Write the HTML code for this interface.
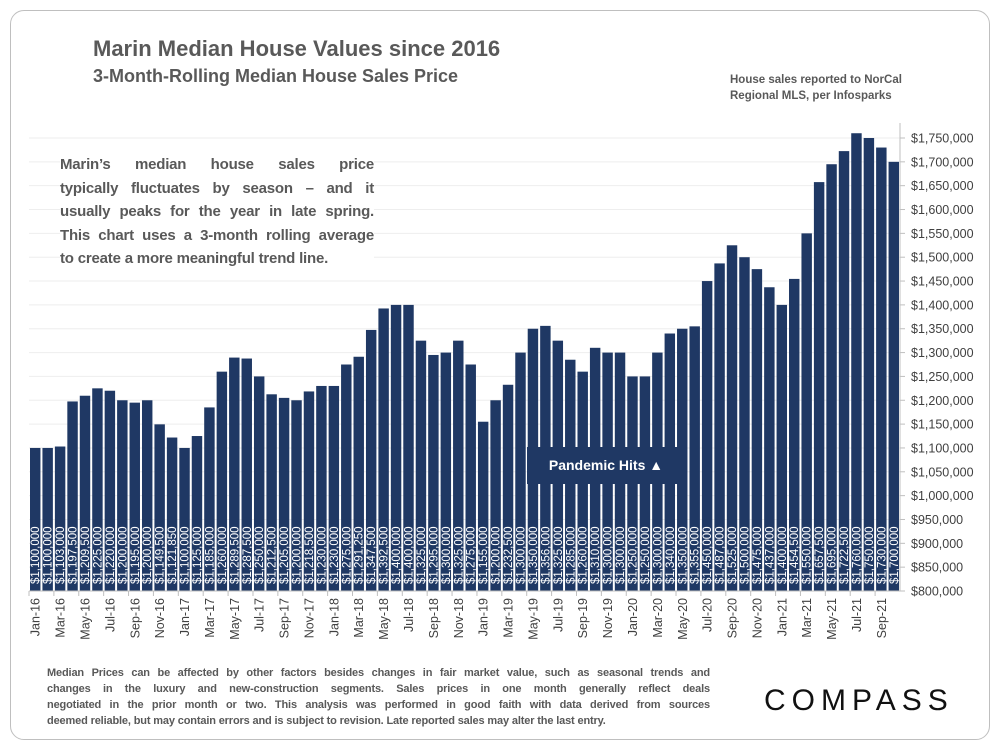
<!DOCTYPE html>
<html><head><meta charset="utf-8">
<style>
body{margin:0;background:#fff;width:1000px;height:750px;overflow:hidden;font-family:"Liberation Sans",sans-serif;}
#frame{position:absolute;left:10px;top:10px;width:978px;height:728px;border:1.5px solid #bfbfbf;border-radius:14px;}
.t{position:absolute;color:#595959;font-weight:bold;}
.jl{text-align:justify;text-align-last:justify;white-space:nowrap;}
.ll{text-align:left;white-space:nowrap;}
</style></head><body>
<div id="frame"></div>
<div class="t" style="left:93px;top:36px;font-size:22px;">Marin Median House Values since 2016</div>
<div class="t" style="left:93px;top:66px;font-size:18px;">3-Month-Rolling Median House Sales Price</div>
<div class="t" style="left:730px;top:72px;font-size:11.5px;line-height:16px;">House sales reported to NorCal<br>Regional MLS, per Infosparks</div>
<svg id="chart" width="1000" height="750" style="position:absolute;left:0;top:0"></svg>
<div class="t" style="left:60px;top:153px;width:314px;font-size:15px;line-height:23.5px;background:#fff;letter-spacing:-0.2px;">
<div class="jl">Marin’s median house sales price</div>
<div class="jl">typically fluctuates by season – and it</div>
<div class="jl">usually peaks for the year in late spring.</div>
<div class="jl">This chart uses a 3-month rolling average</div>
<div class="ll">to create a more meaningful trend line.</div>
</div>
<div style="position:absolute;left:527px;top:447px;width:158px;height:37px;background:#1f3864;color:#fff;font-weight:bold;font-size:14px;line-height:37px;text-align:center;">Pandemic Hits ▲</div>
<div class="t" style="left:47px;top:665px;width:663px;font-size:11px;line-height:16px;letter-spacing:-0.15px;">
<div class="jl">Median Prices can be affected by other factors besides changes in fair market value, such as seasonal trends and</div>
<div class="jl">changes in the luxury and new-construction segments. Sales prices in one month generally reflect deals</div>
<div class="jl">negotiated in the prior month or two. This analysis was performed in good faith with data derived from sources</div>
<div class="ll">deemed reliable, but may contain errors and is subject to revision. Late reported sales may alter the last entry.</div>
</div>
<div style="position:absolute;left:764px;top:684px;font-size:30px;letter-spacing:6px;color:#111;font-family:'Liberation Sans',sans-serif;">COMPASS</div>
<script>
const months=["Jan","Feb","Mar","Apr","May","Jun","Jul","Aug","Sep","Oct","Nov","Dec"];
const categories=[];
for(let y=16;y<=21;y++){for(let m=0;m<12;m++){if(y===21&&m>9)break;categories.push(months[m]+"-"+y);}}
const values=[1100000,1100000,1103000,1197500,1209500,1225000,1220000,1200000,1195000,1200000,1149500,1121850,
1100000,1125000,1185000,1260000,1289500,1287500,1250000,1212500,1205000,1200000,1218500,1230000,
1230000,1275000,1291250,1347500,1392500,1400000,1400000,1325000,1295000,1300000,1325000,1275000,
1155000,1200000,1232500,1300000,1350000,1356000,1325000,1285000,1260000,1310000,1300000,1300000,
1250000,1250000,1300000,1340000,1350000,1355000,1450000,1487000,1525000,1500000,1475000,1437000,
1400000,1454500,1550000,1657500,1695000,1722500,1760000,1750000,1730000,1700000];
const yTicks=[800000,850000,900000,950000,1000000,1050000,1100000,1150000,1200000,1250000,1300000,1350000,1400000,1450000,1500000,1550000,1600000,1650000,1700000,1750000];
const NS="http://www.w3.org/2000/svg";
const svg=document.getElementById('chart');
const x0=29,x1=900,yBase=591,yTop=138,vMin=800000,vMax=1750000;
const step=(x1-x0)/categories.length;
function xPos(i){return x0+i*step;}
function yPos(v){return yBase-(v-vMin)/(vMax-vMin)*(yBase-yTop);}
function fmt(v){return "$"+v.toLocaleString("en-US");}
function mk(tag,attrs){const e=document.createElementNS(NS,tag);for(const k in attrs)e.setAttribute(k,attrs[k]);svg.appendChild(e);return e;}
yTicks.forEach(v=>{
  const g=mk('line',{x1:x0,x2:x1,y1:yPos(v),y2:yPos(v),stroke:'#eeeeee','stroke-width':1});
  
  
  const tk=mk('line',{x1:x1,x2:x1+5,y1:yPos(v),y2:yPos(v),stroke:'#bfbfbf'});
  
  
  const t=mk('text',{x:x1+11,y:yPos(v)+4.5,'font-size':12.5,fill:'#404040','font-family':'Liberation Sans, sans-serif'});
  t.textContent=fmt(v);
  
  
});
values.forEach((v,i)=>{
  const bx=xPos(i)+1,bw=step-2;
  const r=mk('rect',{x:bx,y:yPos(v),width:bw,height:yBase-yPos(v),fill:'#1f3864'});
  
  
  const cx=xPos(i)+step/2+4;
  const t=mk('text',{x:0,y:0,transform:`translate(${cx},584) rotate(-90)`,'font-size':11.5,fill:'#fff','font-family':'Liberation Sans, sans-serif'});
  t.textContent=fmt(v);
  
  
});
const ax=mk('line',{x1:x1,x2:x1,y1:yTop-15,y2:yBase,stroke:'#bfbfbf'});


const bl=mk('line',{x1:x0,x2:x1,y1:yBase,y2:yBase,stroke:'#bfbfbf'});


categories.forEach((c,i)=>{
  if(i%2===0){
    const tk=mk('line',{x1:xPos(i),x2:xPos(i),y1:yBase,y2:yBase+5,stroke:'#bfbfbf'});
    
    
    const cx=xPos(i)+step/2+4.5;
    const t=mk('text',{x:0,y:0,transform:`translate(${cx},598) rotate(-90)`,'font-size':12.5,fill:'#404040','text-anchor':'end','font-family':'Liberation Sans, sans-serif'});
    t.textContent=c;
    
    
  }
});
</script>
</body></html>
